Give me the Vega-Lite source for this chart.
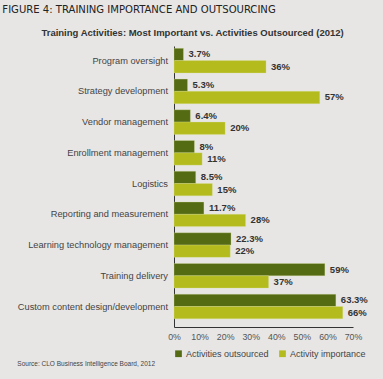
{
  "$schema": "https://vega.github.io/schema/vega-lite/v6.json",
  "background": "#e7e6e4",
  "padding": {"left": 2, "top": 4, "right": 18, "bottom": 12},
  "config": {
    "font": "Liberation Sans",
    "view": {"stroke": null},
    "concat": {"spacing": 0}
  },
  "title": {
    "text": "FIGURE 4: TRAINING IMPORTANCE AND OUTSOURCING",
    "anchor": "start",
    "dx": -15,
    "font": "'DejaVu Sans Condensed', sans-serif",
    "fontSize": 11.2,
    "fontWeight": "normal",
    "color": "#222",
    "offset": 12
  },
  "resolve": {"scale": {"color": "independent"}, "legend": {"color": "independent"}},
  "vconcat": [
    {
      "title": {
        "text": "Training Activities: Most Important vs. Activities Outsourced (2012)",
        "anchor": "middle",
        "fontSize": 9.5,
        "fontWeight": "bold",
        "color": "#333",
        "offset": 9
      },
      "resolve": {"scale": {"color": "independent"}, "legend": {"color": "independent"}},
      "vconcat": [
        {
          "title": {
            "text": "Source: CLO Business Intelligence Board, 2012",
            "orient": "bottom",
            "anchor": "start",
            "fontSize": 6.5,
            "fontWeight": "normal",
            "color": "#444",
            "offset": 2
          },
          "width": 179,
          "height": 281,
          "data": {
            "values": [
              {"activity": "Program oversight", "series": "Activities outsourced", "value": 0.037},
              {"activity": "Program oversight", "series": "Activity importance", "value": 0.36},
              {"activity": "Strategy development", "series": "Activities outsourced", "value": 0.053},
              {"activity": "Strategy development", "series": "Activity importance", "value": 0.57},
              {"activity": "Vendor management", "series": "Activities outsourced", "value": 0.064},
              {"activity": "Vendor management", "series": "Activity importance", "value": 0.20},
              {"activity": "Enrollment management", "series": "Activities outsourced", "value": 0.08},
              {"activity": "Enrollment management", "series": "Activity importance", "value": 0.11},
              {"activity": "Logistics", "series": "Activities outsourced", "value": 0.085},
              {"activity": "Logistics", "series": "Activity importance", "value": 0.15},
              {"activity": "Reporting and measurement", "series": "Activities outsourced", "value": 0.117},
              {"activity": "Reporting and measurement", "series": "Activity importance", "value": 0.28},
              {"activity": "Learning technology management", "series": "Activities outsourced", "value": 0.223},
              {"activity": "Learning technology management", "series": "Activity importance", "value": 0.22},
              {"activity": "Training delivery", "series": "Activities outsourced", "value": 0.59},
              {"activity": "Training delivery", "series": "Activity importance", "value": 0.37},
              {"activity": "Custom content design/development", "series": "Activities outsourced", "value": 0.633},
              {"activity": "Custom content design/development", "series": "Activity importance", "value": 0.66}
            ]
          },
          "encoding": {
            "y": {
              "field": "activity",
              "type": "nominal",
              "sort": null,
              "scale": {"paddingInner": 0.2, "paddingOuter": 0.17, "align": 0.22},
              "axis": {
                "title": null,
                "ticks": false,
                "domainColor": "#333",
                "labelPadding": 6.5,
                "labelFontSize": 9.25,
                "labelColor": "#444",
                "labelLimit": 300
              }
            },
            "yOffset": {
              "field": "series",
              "type": "nominal",
              "sort": ["Activities outsourced", "Activity importance"],
              "scale": {"paddingInner": 0, "paddingOuter": 0}
            },
            "x": {
              "field": "value",
              "type": "quantitative",
              "scale": {"domain": [0, 0.7], "nice": false},
              "axis": {
                "title": null,
                "format": ".0%",
                "values": [0, 0.1, 0.2, 0.3, 0.4, 0.5, 0.6, 0.7],
                "labelOverlap": false,
                "labelFlush": false,
                "labelBound": false,
                "ticks": false,
                "grid": false,
                "domainColor": "#333",
                "labelPadding": 5,
                "labelFontSize": 8.8,
                "labelColor": "#555"
              }
            }
          },
          "layer": [
            {
              "mark": {"type": "bar", "stroke": "#dfe3a0", "strokeWidth": 0.5, "strokeOpacity": 0.6},
              "encoding": {
                "color": {
                  "field": "series",
                  "type": "nominal",
                  "scale": {
                    "domain": ["Activities outsourced", "Activity importance"],
                    "range": ["#546a13", "#b3bb1d"]
                  },
                  "legend": {
                    "orient": "bottom",
                    "title": null,
                    "symbolType": "square",
                    "symbolSize": 45,
                    "symbolStrokeWidth": 0,
                    "labelFontSize": 9,
                    "labelColor": "#444",
                    "labelOffset": 3,
                    "columnPadding": 9,
                    "offset": 8
                  }
                }
              }
            },
            {
              "mark": {
                "type": "text",
                "align": "left",
                "baseline": "middle",
                "dx": 5,
                "fontWeight": "bold",
                "fontSize": 9.5,
                "color": "#333"
              },
              "encoding": {
                "text": {"field": "value", "type": "quantitative", "format": ".1~%"}
              }
            }
          ]
        }
      ]
    }
  ]
}
